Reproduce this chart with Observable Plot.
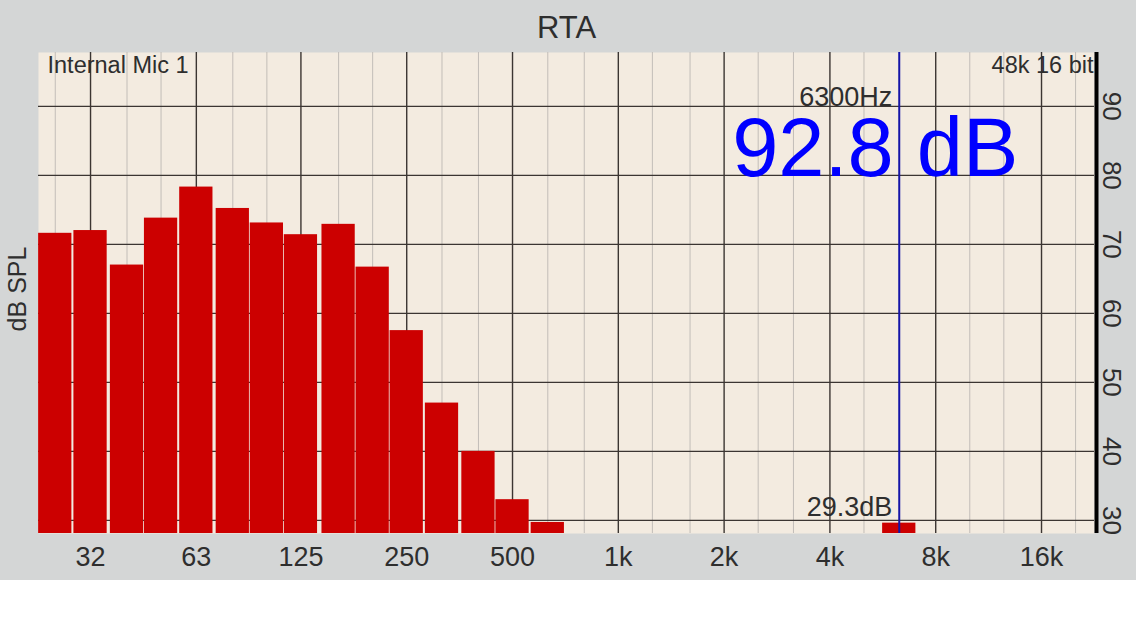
<!DOCTYPE html>
<html>
<head>
<meta charset="utf-8">
<script src="https://cdn.jsdelivr.net/npm/d3@7"></script>
<script src="https://cdn.jsdelivr.net/npm/@observablehq/plot@0.6"></script>
<style>
  html, body { margin: 0; padding: 0; background: #ffffff; }
  #chart svg { display: block; }
</style>
</head>
<body>
<div id="chart"></div>
<script>
// 1/3-octave band centre frequencies (Hz) that carry a level
const bandFreqs = [25, 31.5, 40, 50, 63, 80, 100, 125, 160, 200, 250, 315, 400, 500, 630, 6300];
// Levels (dB SPL)
const bandLevels = [71.6, 72.0, 67.0, 73.8, 78.3, 75.2, 73.1, 71.4, 72.9, 66.7, 57.5, 47.0, 40.0, 33.0, 29.7, 29.6];

// Grid: all 1/3-octave centres, octave ones are drawn darker
const thirdOctaves = [25, 31.5, 40, 50, 63, 80, 100, 125, 160, 200, 250, 315, 400, 500, 630, 800,
  1000, 1250, 1600, 2000, 2500, 3150, 4000, 5000, 6300, 8000, 10000, 12500, 16000, 20000];
const octaveFreqs = [31.5, 63, 125, 250, 500, 1000, 2000, 4000, 8000, 16000];
const octaveLabels = ["32", "63", "125", "250", "500", "1k", "2k", "4k", "8k", "16k"];
const dbTicks = [30, 40, 50, 60, 70, 80, 90];

// Cursor read-out
const cursorFreq = 6300;
const cursorFreqLabel = "6300Hz";
const cursorLevelLabel = "29.3dB";
const bigReadout = "92.8 dB";
const title = "RTA";
const yLabel = "dB SPL";
const inputLabel = "Internal Mic 1";
const formatLabel = "48k 16 bit";

const X_DOMAIN = [22.4, 22640];
const Y_DOMAIN = [28.1, 97.8];

const bands = bandFreqs.map((f, i) => ({f, db: bandLevels[i]}));
const lightGrid = thirdOctaves.filter(f => !octaveFreqs.includes(f));
const octTicks = octaveFreqs.map((f, i) => ({f, label: octaveLabels[i]}));

const FONT = "'Liberation Sans', Arial, Helvetica, sans-serif";
const TXT = "#2e2e2e";

const chart = Plot.plot({
  width: 1136,
  height: 580,
  marginLeft: 38,
  marginRight: 42,
  marginTop: 52,
  marginBottom: 47,
  style: {background: "#d4d6d6", fontFamily: FONT, color: TXT},
  x: {type: "log", domain: X_DOMAIN, axis: null},
  y: {domain: Y_DOMAIN, axis: null},
  marks: [
    Plot.frame({fill: "#f3ebe0", stroke: null}),
    Plot.ruleX(lightGrid, {x: d => d, stroke: "#c2bdb8", strokeWidth: 1}),
    Plot.ruleX(octaveFreqs, {x: d => d, stroke: "#3b3532", strokeWidth: 1.4}),
    Plot.ruleY(dbTicks, {y: d => d, stroke: "#3b3532", strokeWidth: 1.4}),
    Plot.rectY(bands, {
      x1: d => d.f / Math.pow(2, 1 / 6),
      x2: d => d.f * Math.pow(2, 1 / 6),
      y1: d => Y_DOMAIN[0],
      y2: "db",
      fill: "#cc0000",
      insetLeft: 1,
      insetRight: 1,
      clip: true
    }),
    Plot.ruleX([cursorFreq], {x: d => d, stroke: "#1414a8", strokeWidth: 2}),
    Plot.ruleX([X_DOMAIN[1]], {x: d => d, stroke: "#000000", strokeWidth: 4, dx: 2}),
    // title
    Plot.text([title], {frameAnchor: "top", text: d => d, dy: -15, lineAnchor: "bottom", fontSize: 31, fill: TXT}),
    // y label
    Plot.text([yLabel], {frameAnchor: "left", text: d => d, rotate: -90, dx: -13, dy: -4, lineAnchor: "bottom", textAnchor: "middle", fontSize: 25, fill: TXT}),
    // corner labels
    Plot.text([inputLabel], {frameAnchor: "top-left", text: d => d, dx: 9, dy: 20, lineAnchor: "bottom", textAnchor: "start", fontSize: 23.5, fill: TXT}),
    Plot.text([formatLabel], {frameAnchor: "top-right", text: d => d, dx: -1, dy: 20, lineAnchor: "bottom", textAnchor: "end", fontSize: 23.5, fill: TXT}),
    // x tick labels
    Plot.text(octTicks, {x: "f", text: "label", frameAnchor: "bottom", dy: 32, lineAnchor: "bottom", textAnchor: "middle", fontSize: 27, fill: TXT}),
    // right y tick labels
    Plot.text(dbTicks, {y: d => d, text: d => String(d), frameAnchor: "right", rotate: 90, dx: 8, lineAnchor: "bottom", textAnchor: "middle", fontSize: 26, fill: TXT}),
    // cursor readouts
    Plot.text([cursorFreq], {x: d => d, text: () => cursorFreqLabel, frameAnchor: "top", dx: -7, dy: 53, lineAnchor: "bottom", textAnchor: "end", fontSize: 27, fill: TXT}),
    Plot.text([cursorFreq], {x: d => d, text: () => bigReadout, frameAnchor: "top", dx: -24, dy: 123, lineAnchor: "bottom", textAnchor: "middle", fontSize: 83, fill: "#0000ff"}),
    Plot.text([cursorFreq], {x: d => d, text: () => cursorLevelLabel, frameAnchor: "bottom", dx: -7, dy: -18, lineAnchor: "bottom", textAnchor: "end", fontSize: 27, fill: TXT})
  ]
});
document.getElementById("chart").appendChild(chart);
</script>
</body>
</html>
